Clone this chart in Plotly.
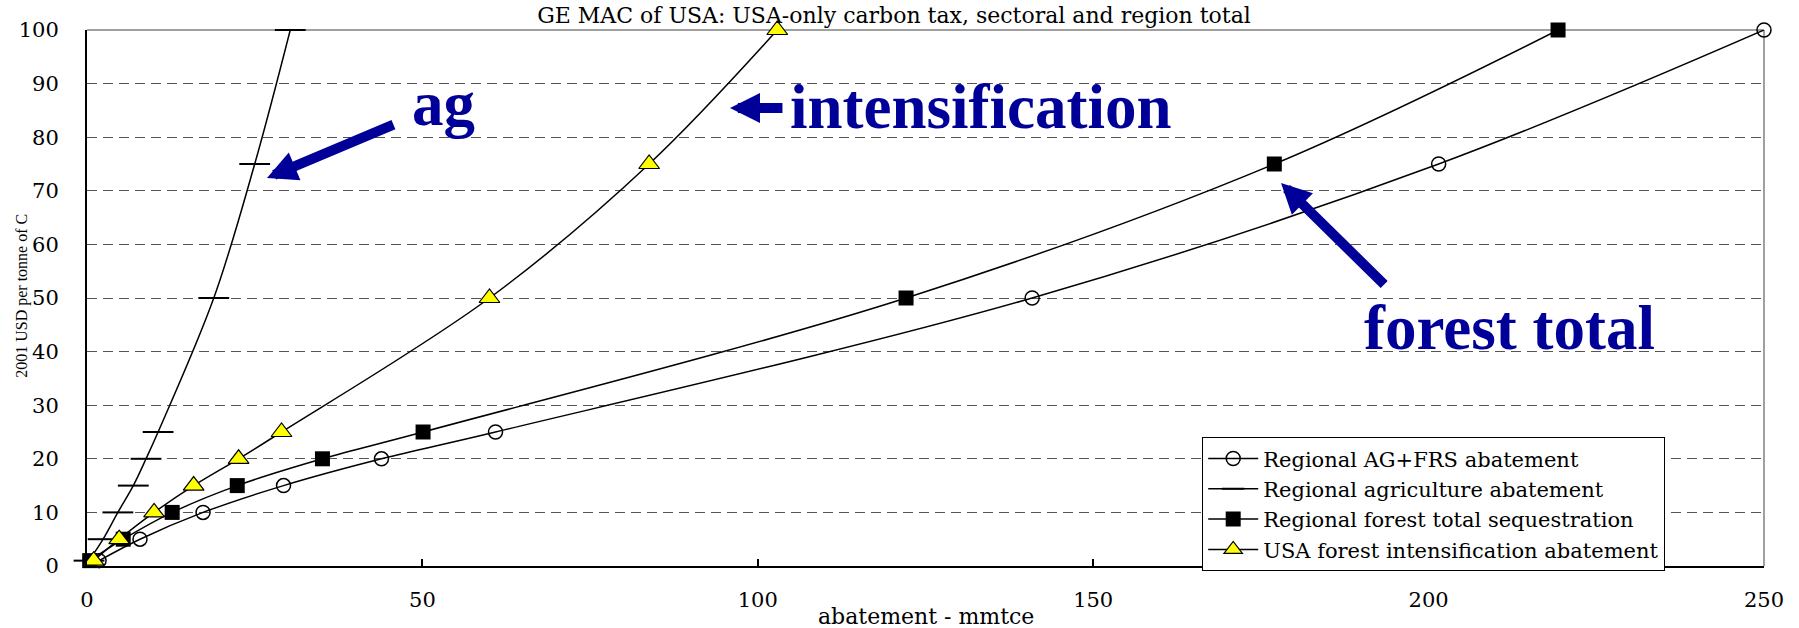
import plotly.graph_objects as go

# ---- data ----
price = [1, 5, 10, 15, 20, 25, 50, 75, 100]                      # 2001 USD per tonne of C
ag_frs = [1.8, 7.9, 17.3, 29.3, 43.9, 60.9, 140.9, 201.5, 250.0]  # Regional AG+FRS abatement
agriculture = [0.3, 2.4, 4.6, 6.9, 8.8, 10.6, 18.9, 25.0, 30.3]   # Regional agriculture abatement
forest_total = [0.4, 5.4, 12.7, 22.4, 35.1, 50.1, 122.1, 177.0, 219.3]  # Regional forest total sequestration
intensification = [1.0, 4.8, 10.0, 15.9, 22.6, 29.0, 60.0, 83.8, 102.9]  # USA forest intensification abatement

names = ["Regional AG+FRS abatement", "Regional agriculture abatement",
         "Regional forest total sequestration", "USA forest intensification abatement"]
x_ticks = [0, 50, 100, 150, 200, 250]

SERIF = "DejaVu Serif"
BLUE = "#000099"

fig = go.Figure()
line = dict(color="black", width=1.5, shape="spline")

fig.add_trace(go.Scatter(x=ag_frs, y=price, name=names[0], mode="lines+markers", line=line,
                         cliponaxis=False,
                         marker=dict(symbol="circle-open", size=14, color="black", line=dict(width=1.5))))
fig.add_trace(go.Scatter(x=agriculture, y=price, name=names[1], mode="lines+markers", line=line,
                         cliponaxis=False,
                         marker=dict(symbol="line-ew", size=22, color="black", line=dict(width=2, color="black"))))
fig.add_trace(go.Scatter(x=forest_total, y=price, name=names[2], mode="lines+markers", line=line,
                         cliponaxis=False,
                         marker=dict(symbol="square", size=15, color="black")))
fig.add_trace(go.Scatter(x=intensification, y=price, name=names[3], mode="lines+markers", line=line,
                         cliponaxis=False,
                         marker=dict(symbol="triangle-up", size=18, color="#ffff00", line=dict(width=1.2, color="black"))))

fig.update_layout(
    width=1799, height=628,
    margin=dict(l=87, r=35, t=30, b=62),
    paper_bgcolor="white", plot_bgcolor="white",
    title=dict(text="GE MAC of USA: USA-only carbon tax, sectoral and region total",
               font=dict(family=SERIF, size=22, color="black"),
               x=894 / 1799, xref="container", xanchor="center",
               y=1 - 15 / 628, yref="container", yanchor="middle"),
    xaxis=dict(range=[0, 250], tickvals=x_ticks, ticks="inside", ticklen=7, tickcolor="black", tickwidth=1.5,
               showline=True, linecolor="black", linewidth=2, showgrid=False, zeroline=False,
               tickfont=dict(family=SERIF, size=21, color="black"), ticklabelstandoff=14),
    yaxis=dict(range=[0, 100], dtick=10, ticks="", showline=True, linecolor="black", linewidth=2,
               showgrid=True, gridcolor="#555555", gridwidth=1, griddash="10px,6px", zeroline=False,
               tickfont=dict(family=SERIF, size=21, color="black"), ticklabelstandoff=22),
    legend=dict(x=0.665, y=0.24, xanchor="left", yanchor="top", bgcolor="white",
                bordercolor="black", borderwidth=1, font=dict(family=SERIF, size=21, color="black"),
                itemwidth=50),
    showlegend=True,
)

# grey top / right border
fig.add_shape(type="line", xref="paper", yref="paper", x0=0, x1=1, y0=1, y1=1,
              line=dict(color="#808080", width=1.5), layer="below")
fig.add_shape(type="line", xref="paper", yref="paper", x0=1, x1=1, y0=0, y1=1,
              line=dict(color="#808080", width=1.5), layer="below")

ann = []
# axis titles
ann.append(dict(text="2001 USD per tonne of C", xref="paper", yref="paper", x=-0.0388, y=0.504,
                xanchor="center", yanchor="middle",
                textangle=-90, showarrow=False, font=dict(family="Liberation Serif", size=16, color="black")))
ann.append(dict(text="abatement - mmtce", xref="paper", yref="paper", x=0.5, y=-0.0933,
                xanchor="center", yanchor="middle",
                showarrow=False, font=dict(family=SERIF, size=22, color="black")))
# big call-out labels
big = dict(family="Liberation Serif", size=63, color=BLUE, weight="bold")
ann.append(dict(text="ag", x=53.2, y=86.2, xref="x", yref="y", showarrow=False, font=big))
ann.append(dict(text="intensification", x=133.3, y=85.6, xref="x", yref="y", showarrow=False, font=big))
ann.append(dict(text="forest total", x=212.0, y=44.4, xref="x", yref="y", showarrow=False, font=big))
# arrows
arrow = dict(text="", xref="x", yref="y", axref="x", ayref="y", showarrow=True,
             arrowhead=2, arrowsize=0.6, arrowwidth=10, arrowcolor=BLUE, standoff=0)
ann.append(dict(arrow, x=26.83, y=72.39, ax=45.91, ay=82.46))
ann.append(dict(arrow, x=95.86, y=85.45, ax=103.9, ay=85.45))
ann.append(dict(arrow, x=178.0, y=71.46, ax=193.6, ay=52.24))
fig.update_layout(annotations=ann)

fig.write_html("out.html")
